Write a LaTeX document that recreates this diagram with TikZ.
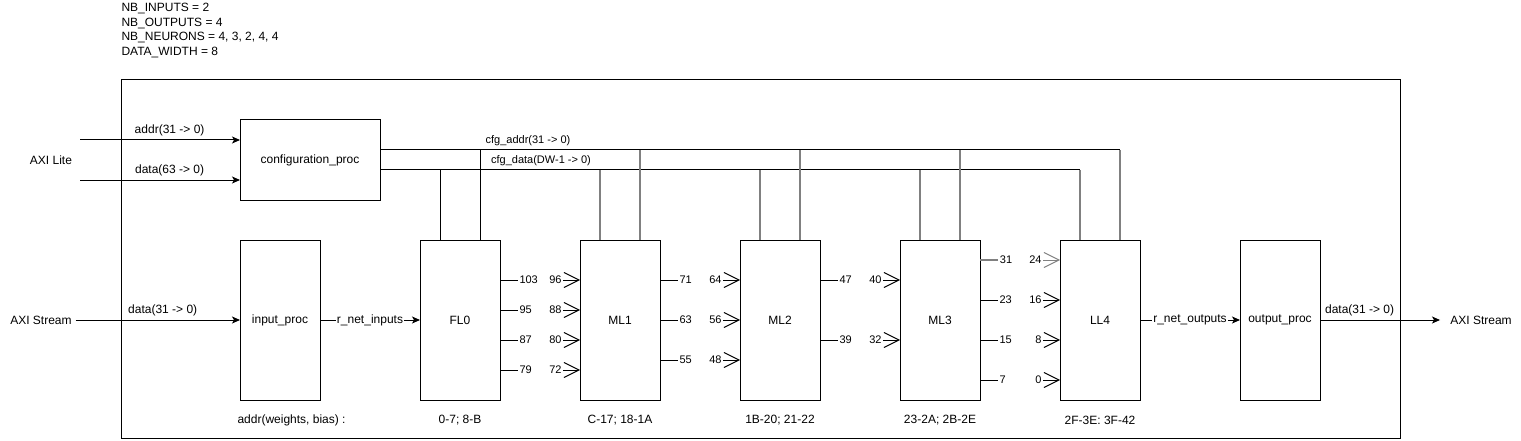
\documentclass[tikz,border=0pt]{standalone}
\usepackage{fontspec}
\setmainfont{Liberation Sans}
\usetikzlibrary{arrows.meta, positioning}

\tikzset{
  block/.style={draw, minimum width=80pt, minimum height=160pt, inner sep=0pt, outer sep=0pt},
  sig/.style={-{Stealth[length=8pt, width=7pt, inset=2pt]}},
  inarr/.style={-{Straight Barb[length=15pt, width=15pt]}},
  port/.style={font=\fontsize{11}{13}\selectfont, inner sep=1pt},
  tap/.style={draw=gray, line width=1.8pt},
  buslbl/.style={font=\fontsize{11}{13}\selectfont},
}

\begin{document}
\begin{tikzpicture}[x=1pt, y=-1pt, line width=1pt, font=\fontsize{12}{14.5}\selectfont]
\useasboundingbox (0,0) rectangle (1521,441);

% generics
\node[anchor=north west, align=left, inner sep=0pt] (params) at (121,3) {NB\_INPUTS = 2\\NB\_OUTPUTS = 4\\NB\_NEURONS = 4, 3, 2, 4, 4\\DATA\_WIDTH = 8};

% top level
\draw (121,80) rectangle (1400,438);

\node[block, minimum width=140pt, minimum height=80pt] (cfg) at (310,160) {configuration\_proc};
\node[block] (inp) at (280,320) {input\_proc};
\node[block, right=100pt of inp] (fl0) {FL0};
\node[block, right=80pt of fl0] (ml1) {ML1};
\node[block, right=80pt of ml1] (ml2) {ML2};
\node[block, right=80pt of ml2] (ml3) {ML3};
\node[block, right=80pt of ml3] (ll4) {LL4};
\node[block, right=100pt of ll4] (outp) {output\_proc};

% interfaces
\node (lite) at (51,160) {AXI Lite};
\node (sin) at (41,320) {AXI Stream};
\node (sout) at (1481,320) {AXI Stream};
\coordinate (soutend) at (1440,320);

\draw[sig] ([xshift=-160pt, yshift=20pt]cfg.west) -- ([yshift=20pt]cfg.west) node[pos=0.56, above] (laddr) {addr(31 -> 0)};
\draw[sig] ([xshift=-160pt, yshift=-20pt]cfg.west) -- ([yshift=-20pt]cfg.west) node[pos=0.56, above] (ldata) {data(63 -> 0)};
\draw[sig] (sin) -- (inp) node[pos=0.53, above] (sdata) {data(31 -> 0)};
\draw[sig] (inp) -- (fl0) node[midway, fill=white, inner sep=1pt] (rin) {r\_net\_inputs};
\draw[sig] (ll4) -- (outp) node[midway, fill=white, inner sep=1pt] (rout) {r\_net\_outputs};
\draw[sig] (outp) -- (soutend) node[pos=0.33, above] (odata) {data(31 -> 0)};

% config bus
\coordinate (abus) at ([yshift=10pt]cfg.east);
\coordinate (dbus) at ([yshift=-10pt]cfg.east);
\draw (abus) -- ([xshift=20pt]ll4.north |- abus) node[buslbl, pos=0.2, above] (cfgaddr) {cfg\_addr(31 -> 0)};
\draw (dbus) -- ([xshift=-20pt]ll4.north |- dbus) node[buslbl, pos=0.23, above] (cfgdata) {cfg\_data(DW-1 -> 0)};
\draw ([xshift=-20pt]fl0.north) -- ([xshift=-20pt]fl0.north |- dbus);
\draw ([xshift=20pt]fl0.north) -- ([xshift=20pt]fl0.north |- abus);
\draw[tap] ([xshift=-20pt]ml1.north) -- ([xshift=-20pt]ml1.north |- dbus);
\draw[tap] ([xshift=20pt]ml1.north) -- ([xshift=20pt]ml1.north |- abus);
\draw[tap] ([xshift=-20pt]ml2.north) -- ([xshift=-20pt]ml2.north |- dbus);
\draw[tap] ([xshift=20pt]ml2.north) -- ([xshift=20pt]ml2.north |- abus);
\draw[tap] ([xshift=-20pt]ml3.north) -- ([xshift=-20pt]ml3.north |- dbus);
\draw[tap] ([xshift=20pt]ml3.north) -- ([xshift=20pt]ml3.north |- abus);
\draw[tap] ([xshift=-20pt]ll4.north) -- ([xshift=-20pt]ll4.north |- dbus);
\draw[tap] ([xshift=20pt]ll4.north) -- ([xshift=20pt]ll4.north |- abus);

% FL0 -> ML1
\draw ([yshift=40pt]fl0.east) -- ++(18,0) node[port, anchor=west] (o103) {103};
\draw ([yshift=10pt]fl0.east) -- ++(18,0) node[port, anchor=west] (o95) {95};
\draw ([yshift=-20pt]fl0.east) -- ++(18,0) node[port, anchor=west] (o87) {87};
\draw ([yshift=-50pt]fl0.east) -- ++(18,0) node[port, anchor=west] (o79) {79};
\node[port, left=17pt of ml1.west, yshift=40pt] (i96) {96};
\node[port, left=17pt of ml1.west, yshift=10pt] (i88) {88};
\node[port, left=17pt of ml1.west, yshift=-20pt] (i80) {80};
\node[port, left=17pt of ml1.west, yshift=-50pt] (i72) {72};
\draw[inarr] (i96) -- (i96 -| ml1.west);
\draw[inarr] (i88) -- (i88 -| ml1.west);
\draw[inarr] (i80) -- (i80 -| ml1.west);
\draw[inarr] (i72) -- (i72 -| ml1.west);

% ML1 -> ML2
\draw ([yshift=40pt]ml1.east) -- ++(18,0) node[port, anchor=west] (o71) {71};
\draw (ml1.east) -- ++(18,0) node[port, anchor=west] (o63) {63};
\draw ([yshift=-40pt]ml1.east) -- ++(18,0) node[port, anchor=west] (o55) {55};
\node[port, left=17pt of ml2.west, yshift=40pt] (i64) {64};
\node[port, left=17pt of ml2.west] (i56) {56};
\node[port, left=17pt of ml2.west, yshift=-40pt] (i48) {48};
\draw[inarr] (i64) -- (i64 -| ml2.west);
\draw[inarr] (i56) -- (i56 -| ml2.west);
\draw[inarr] (i48) -- (i48 -| ml2.west);

% ML2 -> ML3
\draw ([yshift=40pt]ml2.east) -- ++(18,0) node[port, anchor=west] (o47) {47};
\draw ([yshift=-20pt]ml2.east) -- ++(18,0) node[port, anchor=west] (o39) {39};
\node[port, left=17pt of ml3.west, yshift=40pt] (i40) {40};
\node[port, left=17pt of ml3.west, yshift=-20pt] (i32) {32};
\draw[inarr] (i40) -- (i40 -| ml3.west);
\draw[inarr] (i32) -- (i32 -| ml3.west);

% ML3 -> LL4
\draw[tap] ([yshift=60pt]ml3.east) -- ++(18,0) node[port, anchor=west, text=black] (o31) {31};
\draw ([yshift=20pt]ml3.east) -- ++(18,0) node[port, anchor=west] (o23) {23};
\draw ([yshift=-20pt]ml3.east) -- ++(18,0) node[port, anchor=west] (o15) {15};
\draw ([yshift=-60pt]ml3.east) -- ++(18,0) node[port, anchor=west] (o7) {7};
\node[port, left=17pt of ll4.west, yshift=60pt] (i24) {24};
\node[port, left=17pt of ll4.west, yshift=20pt] (i16) {16};
\node[port, left=17pt of ll4.west, yshift=-20pt] (i8) {8};
\node[port, left=17pt of ll4.west, yshift=-60pt] (i0) {0};
\draw[inarr, draw=gray] (i24) -- (i24 -| ll4.west);
\draw[inarr] (i16) -- (i16 -| ll4.west);
\draw[inarr] (i8) -- (i8 -| ll4.west);
\draw[inarr] (i0) -- (i0 -| ll4.west);

% address ranges
\node[anchor=west, inner sep=0pt] (waddr) at ([xshift=-3pt, yshift=-20pt]inp.south west) {addr(weights, bias) :};
\node (fl0addr) at ([yshift=-20pt]fl0.south) {0-7; 8-B};
\node (ml1addr) at ([yshift=-20pt]ml1.south) {C-17; 18-1A};
\node (ml2addr) at ([yshift=-20pt]ml2.south) {1B-20; 21-22};
\node (ml3addr) at ([yshift=-20pt]ml3.south) {23-2A; 2B-2E};
\node (ll4addr) at ([yshift=-20pt]ll4.south) {2F-3E: 3F-42};
\end{tikzpicture}
\end{document}
